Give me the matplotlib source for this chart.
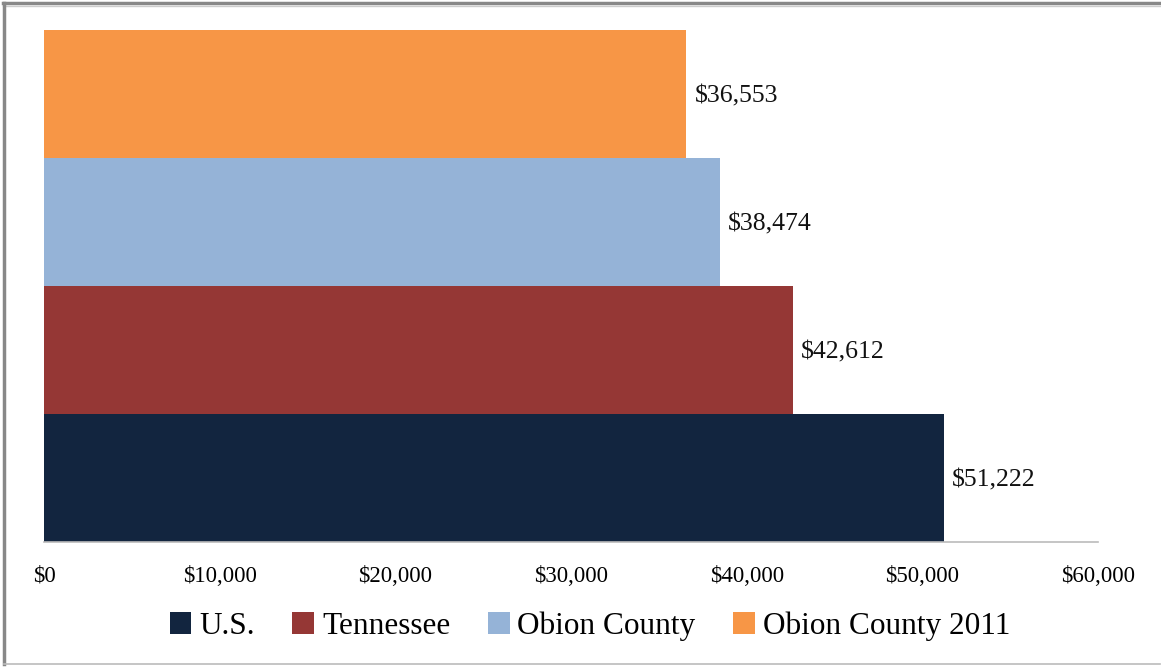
import matplotlib
matplotlib.use('Agg')
import matplotlib.pyplot as plt
from matplotlib.lines import Line2D
from matplotlib.ticker import FuncFormatter

plt.rcParams['font.family'] = ['Liberation Serif', 'DejaVu Serif']

series = ['U.S.', 'Tennessee', 'Obion County', 'Obion County 2011']
income = [51222, 42612, 38474, 36553]
colors = ['#12253F', '#953735', '#95B3D7', '#F79646']
xticks = [0, 10000, 20000, 30000, 40000, 50000, 60000]

fig = plt.figure(figsize=(11.61, 6.67), dpi=100)
ax = fig.add_axes([44/1161, 1-542/667, 1054/1161, 512/667])

for i, (name, v, c) in enumerate(zip(series, income, colors)):
    ax.barh(i, v, height=1.0, color=c, label=name)
    ax.annotate('${:,}'.format(v), (v, i), xytext=(6, -2), textcoords='offset points',
                ha='left', va='center', fontsize=18.5, color='#111111')

ax.set_xlim(0, 60000)
ax.set_ylim(-0.5, 3.5)
ax.set_xticks(xticks)
ax.xaxis.set_major_formatter(FuncFormatter(lambda x, p: '${:,.0f}'.format(x)))
ax.tick_params(axis='x', length=0, pad=17, labelsize=16.5)
ax.set_yticks([])
for s in ['top', 'right', 'left']:
    ax.spines[s].set_visible(False)
ax.spines['bottom'].set_color('#BBBBBB')
ax.spines['bottom'].set_linewidth(1.2)

handles, labels = ax.get_legend_handles_labels()
fig.legend(handles, labels, loc='center', bbox_to_anchor=(0.508, 1-626/667), ncol=4,
           frameon=False, fontsize=22.5, handlelength=0.7, handleheight=0.7,
           handletextpad=0.25, columnspacing=1.2)

# outer frame
fig.add_artist(Line2D([0.003, 0.999], [1-3/667, 1-3/667], color='#888888', lw=2.5))
fig.add_artist(Line2D([0.003, 0.999], [1-6/667, 1-6/667], color='#CCCCCC', lw=1))
fig.add_artist(Line2D([4/1161, 4/1161], [1-3/667, 1-664/667], color='#888888', lw=2.5))
fig.add_artist(Line2D([4/1161, 0.999], [1-664/667, 1-664/667], color='#BBBBBB', lw=1.2))

fig.savefig('out.png', dpi=100)
